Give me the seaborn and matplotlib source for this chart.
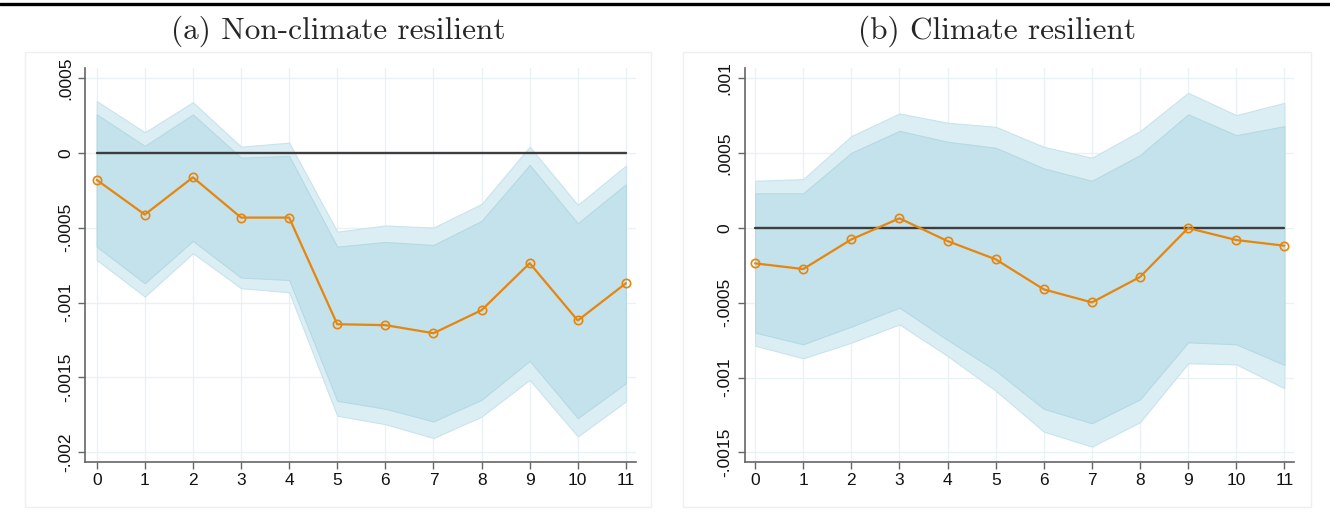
import numpy as np
import pandas as pd
import matplotlib
matplotlib.use("Agg")
import matplotlib.pyplot as plt
from matplotlib.patches import Rectangle
from matplotlib.lines import Line2D
import seaborn as sns

# ---------------- data ----------------
periods = list(range(12))

titles = ["(a) Non-climate resilient", "(b) Climate resilient"]

# Panel (a): Non-climate resilient
a_coef = [-0.000180, -0.000412, -0.000163, -0.000432, -0.000432, -0.001145,
          -0.001151, -0.001205, -0.001051, -0.000737, -0.001120, -0.000871]
a_hi95 = [0.000347, 0.000138, 0.000339, 0.000042, 0.000069, -0.000526,
          -0.000485, -0.000499, -0.000341, 0.000042, -0.000347, -0.000085]
a_hi90 = [0.000258, 0.000047, 0.000258, -0.000031, -0.000020, -0.000626,
          -0.000595, -0.000615, -0.000454, -0.000080, -0.000470, -0.000209]
a_lo90 = [-0.000626, -0.000871, -0.000588, -0.000833, -0.000849, -0.001657,
          -0.001710, -0.001795, -0.001650, -0.001390, -0.001773, -0.001539]
a_lo95 = [-0.000715, -0.000960, -0.000670, -0.000904, -0.000931, -0.001757,
          -0.001813, -0.001906, -0.001762, -0.001517, -0.001895, -0.001661]
a_yticks = [0.0005, 0.0, -0.0005, -0.001, -0.0015, -0.002]
a_ylabels = [".0005", "0", "-.0005", "-.001", "-.0015", "-.002"]

# Panel (b): Climate resilient
b_coef = [-0.000236, -0.000274, -0.000076, 0.000065, -0.000087, -0.000209,
          -0.000410, -0.000497, -0.000327, 0.000000, -0.000080, -0.000118]
b_hi95 = [0.000316, 0.000327, 0.000615, 0.000766, 0.000704, 0.000677,
          0.000543, 0.000470, 0.000648, 0.000904, 0.000755, 0.000837]
b_hi90 = [0.000232, 0.000232, 0.000503, 0.000650, 0.000577, 0.000537,
          0.000399, 0.000316, 0.000488, 0.000760, 0.000621, 0.000681]
b_lo90 = [-0.000699, -0.000777, -0.000659, -0.000532, -0.000748, -0.000953,
          -0.001209, -0.001305, -0.001145, -0.000764, -0.000777, -0.000915]
b_lo95 = [-0.000786, -0.000871, -0.000766, -0.000644, -0.000855, -0.001087,
          -0.001361, -0.001461, -0.001298, -0.000904, -0.000911, -0.001071]
b_yticks = [0.001, 0.0005, 0.0, -0.0005, -0.001, -0.0015]
b_ylabels = [".001", ".0005", "0", "-.0005", "-.001", "-.0015"]

# ---------------- style ----------------
sns.set_style("white")
plt.rcParams['font.family'] = ['Liberation Sans', 'DejaVu Sans']

OUTER = "#dbeef4"
INNER = "#c4e2ec"
EDGE_O = "#c9e3ec"
EDGE_I = "#b5d9e5"
ORANGE = "#e5860f"
GRID = "#e8f2f5"
SPINE = "#666666"

fig = plt.figure(figsize=(13.30, 5.18), dpi=100)

# top rule
fig.add_artist(Line2D([0, 1], [1 - 4 / 518, 1 - 4 / 518], transform=fig.transFigure,
                      color="black", lw=2.4))

# panel frames (graph regions)
for (x0, x1) in [(25, 651), (683, 1311)]:
    fig.add_artist(Rectangle((x0 / 1330, 1 - 507 / 518), (x1 - x0) / 1330, (507 - 52) / 518,
                             transform=fig.transFigure, fill=False,
                             edgecolor="#efefef", lw=1.0))

ax_pos = [
    [85.5 / 1330, (518 - 462) / 518, (636 - 85.5) / 1330, (462 - 68) / 518],
    [745 / 1330, (518 - 462) / 518, (1294 - 745) / 1330, (462 - 68) / 518],
]
xlims = [(-0.233, 11.21), (-0.21, 11.2)]
ylims = [(-0.002066, 0.000568), (-0.001564, 0.00107)]
title_x = [338 / 1330, 997 / 1330]

panels = [
    (a_coef, a_hi95, a_hi90, a_lo90, a_lo95, a_yticks, a_ylabels),
    (b_coef, b_hi95, b_hi90, b_lo90, b_lo95, b_yticks, b_ylabels),
]

for i, (coef, hi95, hi90, lo90, lo95, yt, yl) in enumerate(panels):
    ax = fig.add_axes(ax_pos[i])
    ax.set_facecolor("white")
    x = np.array(periods)

    # grid
    for t in periods:
        ax.axvline(t, color=GRID, lw=1.0, zorder=0)
    for t in yt:
        ax.axhline(t, color=GRID, lw=1.0, zorder=0)

    ax.fill_between(x, lo95, hi95, facecolor=OUTER, edgecolor=EDGE_O, lw=0.8, zorder=1)
    ax.fill_between(x, lo90, hi90, facecolor=INNER, edgecolor=EDGE_I, lw=0.8, zorder=2)

    ax.plot([0, 11], [0, 0], color="#3d3d3d", lw=1.7, zorder=3)

    df = pd.DataFrame({"period": periods, "coef": coef})
    sns.lineplot(data=df, x="period", y="coef", ax=ax, color=ORANGE, lw=1.6,
                 marker="o", markersize=6, markerfacecolor="none",
                 markeredgecolor=ORANGE, markeredgewidth=1.2, zorder=4)

    ax.set_xlim(*xlims[i])
    ax.set_ylim(*ylims[i])
    ax.set_xticks(periods)
    ax.set_xticklabels([str(p) for p in periods])
    ax.set_yticks(yt)
    ax.set_yticklabels(yl, rotation=90, va="center")
    ax.set_xlabel("")
    ax.set_ylabel("")
    ax.tick_params(axis="both", length=5, width=1.0, color=SPINE, labelsize=12.5,
                   labelcolor="#111111", direction="out", left=True, bottom=True)
    ax.tick_params(axis="y", pad=4)
    ax.tick_params(axis="x", pad=3)
    for s in ["top", "right"]:
        ax.spines[s].set_visible(False)
    for s in ["left", "bottom"]:
        ax.spines[s].set_color(SPINE)
        ax.spines[s].set_linewidth(1.2)
    ax.grid(False)

    fig.text(title_x[i], 1 - 31 / 518, titles[i], ha="center", va="center",
             fontsize=22.5, family=["cmr10", "DejaVu Serif"])

fig.savefig("out.png", dpi=100)
